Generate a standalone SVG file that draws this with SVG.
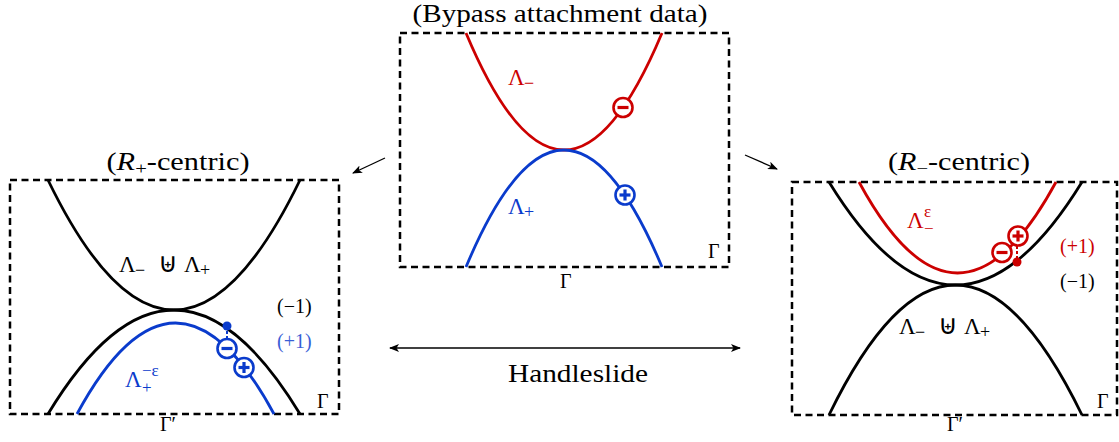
<svg xmlns="http://www.w3.org/2000/svg" width="1119" height="442" viewBox="0 0 1119 442">
<style>
.box{fill:none;stroke:#000;stroke-width:2.5;stroke-dasharray:7,4.5}
.crv{fill:none;stroke-width:2.8}
.k{stroke:#000}.r{stroke:#cc0000}.b{stroke:#0a3bcc}
.t{font-family:'Liberation Serif','Times New Roman',serif;fill:#000}
.title{font-size:25px}
.m{font-size:23px}
.s{font-size:20px}
.u{font-size:27px}
.tr{fill:#cc0000}.tb{fill:#0a3bcc}.tl{fill:#3a5fd6}
.sign{fill:#fff;stroke-width:2.6}
.bar{stroke-width:3.2;stroke-linecap:butt}
.arr{fill:none;stroke:#000;stroke-width:1.3}
.dsh{stroke-width:2;stroke-dasharray:3,2;fill:none}
</style>
<defs>
<marker id="ah" viewBox="0 0 10 8" refX="9" refY="4" markerWidth="10" markerHeight="8" markerUnits="userSpaceOnUse" orient="auto-start-reverse">
<path d="M0,0 L10,4 L0,8 L2.5,4 Z" fill="#000"/>
</marker>
</defs>

<g id="center-panel">
<text class="t title" x="560" y="22" text-anchor="middle" textLength="295" lengthAdjust="spacingAndGlyphs">(Bypass attachment data)</text>
<rect class="box" x="400" y="33" width="329" height="234"/>
<path class="crv r" d="M466,33 Q564,267 662,33"/>
<path class="crv b" d="M466,267 Q564,33 662,267"/>
<g class="r"><circle class="sign" cx="623" cy="107.5" r="9.5"/><line class="bar" x1="617.5" y1="107.5" x2="628.5" y2="107.5"/></g>
<g class="b"><circle class="sign" cx="625" cy="195" r="9.5"/><line class="bar" x1="619.5" y1="195" x2="630.5" y2="195"/><line class="bar" x1="625" y1="189.5" x2="625" y2="200.5"/></g>
<text class="t m tr" x="508" y="85">Λ<tspan x="524" dy="4" font-size="18">−</tspan></text>
<text class="t m tb" x="508" y="214">Λ<tspan x="524" dy="4" font-size="18">+</tspan></text>
<text class="t s" x="708" y="258">Γ</text>
<text class="t s" x="560" y="288">Γ</text>
</g>

<g id="left-panel">
<text class="t title" x="178" y="170" text-anchor="middle" textLength="143" lengthAdjust="spacingAndGlyphs">(<tspan font-style="italic">R</tspan><tspan dy="4" font-size="17">+</tspan><tspan dy="-4">-centric)</tspan></text>
<rect class="box" x="10" y="180" width="329" height="234"/>
<path class="crv k" d="M48,180 Q174,440 300,180"/>
<path class="crv k" d="M48,414 Q174,206 300,414"/>
<path class="crv b" d="M77,414 Q175.5,232 274,414"/>
<line class="dsh b" x1="227" y1="326" x2="227" y2="340"/>
<circle cx="227" cy="326" r="4.5" fill="#0a3bcc"/>
<g class="b"><circle class="sign" cx="227" cy="348.5" r="9.5"/><line class="bar" x1="221.5" y1="348.5" x2="232.5" y2="348.5"/></g>
<g class="b"><circle class="sign" cx="244" cy="367.5" r="9.5"/><line class="bar" x1="238.5" y1="367.5" x2="249.5" y2="367.5"/><line class="bar" x1="244" y1="362" x2="244" y2="373"/></g>
<text class="t m" x="119" y="272">Λ<tspan x="135" dy="4" font-size="18">−</tspan><tspan x="158" dy="-4" class="u">⊎</tspan><tspan x="184">Λ</tspan><tspan x="200" dy="4" font-size="18">+</tspan></text>
<text class="t m tb" x="125" y="387">Λ<tspan x="142" dy="-11" font-size="17">−ε</tspan><tspan x="142" dy="17" font-size="17">+</tspan></text>
<text class="t s" x="277" y="313" fill="#222">(−1)</text>
<text class="t s tl" x="277" y="348">(+1)</text>
<text class="t s" x="317" y="408">Γ</text>
<text class="t s" x="160" y="431">Γ′</text>
</g>

<g id="right-panel">
<text class="t title" x="959" y="170" text-anchor="middle" textLength="142" lengthAdjust="spacingAndGlyphs">(<tspan font-style="italic">R</tspan><tspan dy="4" font-size="17">−</tspan><tspan dy="-4">-centric)</tspan></text>
<rect class="box" x="792" y="182" width="325" height="233"/>
<path class="crv k" d="M829,182 Q955.5,388 1082,182"/>
<path class="crv k" d="M829,415 Q955.5,155 1082,415"/>
<path class="crv r" d="M859,182 Q957.5,364 1056,182"/>
<line class="dsh r" x1="1017" y1="246" x2="1017" y2="261"/>
<circle cx="1017" cy="262" r="4.5" fill="#cc0000"/>
<g class="r"><circle class="sign" cx="1002" cy="252.5" r="9.5"/><line class="bar" x1="996.5" y1="252.5" x2="1007.5" y2="252.5"/></g>
<g class="r"><circle class="sign" cx="1018" cy="236" r="9.5"/><line class="bar" x1="1012.5" y1="236" x2="1023.5" y2="236"/><line class="bar" x1="1018" y1="230.5" x2="1018" y2="241.5"/></g>
<text class="t m tr" x="907" y="228">Λ<tspan x="924" dy="-11" font-size="17">ε</tspan><tspan x="924" dy="17" font-size="17">−</tspan></text>
<text class="t m" x="899" y="334">Λ<tspan x="915" dy="4" font-size="18">−</tspan><tspan x="938" dy="-4" class="u">⊎</tspan><tspan x="964">Λ</tspan><tspan x="980" dy="4" font-size="18">+</tspan></text>
<text class="t s tr" x="1060" y="253">(+1)</text>
<text class="t s" x="1060" y="288" fill="#222">(−1)</text>
<text class="t s" x="1097" y="408">Γ</text>
<text class="t s" x="947" y="431">Γ′</text>
</g>

<g id="connectors">
<line class="arr" x1="385" y1="158" x2="353" y2="173" marker-end="url(#ah)"/>
<line class="arr" x1="745" y1="155" x2="777" y2="169" marker-end="url(#ah)"/>
<line class="arr" x1="390" y1="348" x2="740" y2="348" marker-start="url(#ah)" marker-end="url(#ah)"/>
<text class="t title" x="578" y="382" text-anchor="middle" textLength="140" lengthAdjust="spacingAndGlyphs">Handleslide</text>
</g>
</svg>
